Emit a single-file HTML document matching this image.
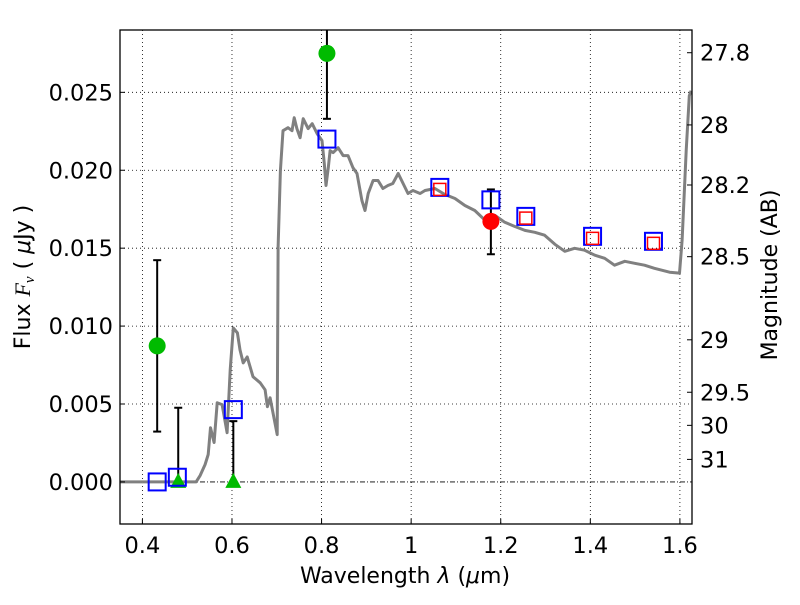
<!DOCTYPE html>
<html><head><meta charset="utf-8"><style>
body{margin:0;background:#fff;}
svg text{font-family:"DejaVu Sans","Liberation Sans",sans-serif;}
</style></head><body>
<svg id="chart" width="800" height="600" xmlns="http://www.w3.org/2000/svg">
<defs><clipPath id="plotclip"><rect x="120" y="30" width="572" height="494"/></clipPath></defs>
<rect width="800" height="600" fill="#fff"/>
<g id="grid"></g>
<g id="marks" clip-path="url(#plotclip)"></g>
<g id="axes"></g>
<text x="405" y="583" font-size="22" text-anchor="middle">Wavelength  <tspan font-style="italic">λ</tspan> (<tspan font-style="italic">μ</tspan>m)</text>
<text transform="translate(30,277) rotate(-90)" font-size="22" text-anchor="middle">Flux  <tspan font-style="italic" font-family="Liberation Serif">F<tspan font-size="15" dy="4">ν</tspan></tspan><tspan dy="-4">  ( </tspan><tspan font-style="italic">μ</tspan>Jy )</text>
<text transform="translate(777,275) rotate(-90)" font-size="22" text-anchor="middle">Magnitude (AB)</text>
</svg>
<script>
const xTicks=[0.4,0.6,0.8,1.0,1.2,1.4,1.6];
const xTickLabels=["0.4","0.6","0.8","1","1.2","1.4","1.6"];
const yTicks=[0,0.005,0.010,0.015,0.020,0.025];
const yTickLabels=["0.000","0.005","0.010","0.015","0.020","0.025"];
const magTicks=[27.8,28,28.2,28.5,29,29.5,30,31];
const magTickLabels=["27.8","28","28.2","28.5","29","29.5","30","31"];
const specLam=[0.35,0.520,0.529,0.540,0.547,0.552,0.560,0.567,0.578,0.589,0.596,0.603,0.612,0.618,0.625,0.634,0.647,0.663,0.674,0.679,0.685,0.701,0.703,0.708,0.714,0.725,0.734,0.739,0.745,0.752,0.759,0.770,0.779,0.790,0.801,0.806,0.810,0.815,0.819,0.826,0.837,0.848,0.859,0.870,0.879,0.890,0.897,0.904,0.915,0.926,0.937,0.948,0.959,0.971,0.982,0.993,1.004,1.020,1.031,1.053,1.075,1.098,1.120,1.142,1.165,1.187,1.209,1.231,1.254,1.276,1.298,1.321,1.343,1.365,1.387,1.410,1.432,1.454,1.477,1.499,1.521,1.543,1.577,1.599,1.605,1.614,1.621,1.625];
const specFlux=[0,0,0.00042,0.00112,0.00176,0.00348,0.00253,0.00508,0.00496,0.00316,0.00719,0.00988,0.00956,0.00847,0.00764,0.00802,0.00675,0.00636,0.00591,0.00483,0.0054,0.00304,0.01506,0.01998,0.02254,0.02273,0.02254,0.02337,0.02267,0.02209,0.02331,0.02267,0.02299,0.02235,0.0219,0.02043,0.01902,0.02017,0.02126,0.02113,0.02145,0.02094,0.02094,0.02017,0.01979,0.01806,0.01742,0.01851,0.01934,0.01934,0.01883,0.01902,0.01915,0.01979,0.01915,0.01851,0.0187,0.01851,0.0187,0.01883,0.01845,0.01819,0.01774,0.01742,0.01679,0.0171,0.01666,0.0164,0.01614,0.01602,0.01583,0.01525,0.0148,0.01499,0.01487,0.01455,0.01435,0.01391,0.01416,0.01403,0.01391,0.01371,0.01346,0.0134,0.0155,0.02126,0.02478,0.0251];
const detLam=[0.433,0.812];
const detFlux=[0.00873,0.0275];
const detErrLo=[0.00323,0.0233];
const detErrHi=[0.01423,0.0320];
const ulLam=[0.480,0.603];
const ulFlux=[0,0];
const ulTop=[0.00476,0.0039];
const redLam=[1.178];
const redFlux=[0.01672];
const redErrLo=[0.01461];
const redErrHi=[0.01877];
const modLam=[0.433,0.478,0.603,0.812,1.064,1.178,1.256,1.405,1.541];
const modFlux=[0,0.0003,0.00464,0.0220,0.0189,0.0181,0.01704,0.01576,0.01544];
const modRedLam=[1.064,1.256,1.405,1.541];
const modRedFlux=[0.01877,0.01693,0.01563,0.01531];

const L=120,R=692,T=30,B=524;
const xMin=0.35,xMax=1.627,yMin=-0.0027,yMax=0.029;
const X=v=>L+(v-xMin)/(xMax-xMin)*(R-L);
const Y=v=>B-(v-yMin)/(yMax-yMin)*(B-T);
const NS="http://www.w3.org/2000/svg";
function mk(tag,attrs,parent){const e=document.createElementNS(NS,tag);for(const k in attrs)e.setAttribute(k,attrs[k]);parent.appendChild(e);return e;}
const grid=document.getElementById('grid'),marks=document.getElementById('marks'),axes=document.getElementById('axes');

xTicks.forEach((v,i)=>{
  let g=mk('line',{x1:X(v),x2:X(v),y1:T,y2:B,stroke:'#000','stroke-width':0.8,'stroke-dasharray':'1,3'},grid);
  
  
  let t=mk('line',{x1:X(v),x2:X(v),y1:B,y2:B-5,stroke:'#000'},axes);
  
  
  let l=mk('text',{x:X(v),y:B+29,'font-size':22.5,'text-anchor':'middle'},axes);
  l.textContent=xTickLabels[i];
  
  
});
yTicks.forEach((v,i)=>{
  if(v!==0){let g=mk('line',{x1:L,x2:R,y1:Y(v),y2:Y(v),stroke:'#000','stroke-width':0.8,'stroke-dasharray':'1,3'},grid);
  
  }
  let t=mk('line',{x1:L,x2:L+5,y1:Y(v),y2:Y(v),stroke:'#000'},axes);
  
  
  let l=mk('text',{x:L-7,y:Y(v)+8,'font-size':22.5,'text-anchor':'end'},axes);
  l.textContent=yTickLabels[i];
  
  
});
let z=mk('line',{x1:L,x2:R,y1:Y(0),y2:Y(0),stroke:'#000','stroke-width':0.8,'stroke-dasharray':'5,2,1,2'},grid);


magTicks.forEach((m,i)=>{
  const f=Math.pow(10,(23.9-m)/2.5);
  let t=mk('line',{x1:R,x2:R-5,y1:Y(f),y2:Y(f),stroke:'#000'},axes);
  
  
  let l=mk('text',{x:R+8,y:Y(f)+8,'font-size':22.5},axes);
  l.textContent=magTickLabels[i];
  
  
});
let spine=mk('rect',{x:L,y:T,width:R-L,height:B-T,fill:'none',stroke:'#000','stroke-width':1.3},axes);



let d=specLam.map((v,i)=>(i?'L':'M')+X(v).toFixed(1)+','+Y(specFlux[i]).toFixed(1)).join('');
let sp=mk('path',{d:d,fill:'none',stroke:'#808080','stroke-width':3,'stroke-linejoin':'round'},marks);



function errbar(x,lo,hi,name){
  const g=mk('g',{stroke:'#000','stroke-width':2},marks);
  
  
  mk('line',{x1:X(x),x2:X(x),y1:Y(lo),y2:Y(hi)},g);
  mk('line',{x1:X(x)-4,x2:X(x)+4,y1:Y(lo),y2:Y(lo)},g);
  mk('line',{x1:X(x)-4,x2:X(x)+4,y1:Y(hi),y2:Y(hi)},g);
}
detLam.forEach((v,i)=>errbar(v,detErrLo[i],detErrHi[i],'detection-errorbar'));
ulLam.forEach((v,i)=>errbar(v,ulFlux[i],ulTop[i],'upper-limit-errorbar'));
redLam.forEach((v,i)=>errbar(v,redErrLo[i],redErrHi[i],'red-errorbar'));
detLam.forEach((v,i)=>{
  let c=mk('circle',{cx:X(v),cy:Y(detFlux[i]),r:8.5,fill:'#00bb00'},marks);
  
  
});
ulLam.forEach((v,i)=>{
  const x=X(v),y=Y(ulFlux[i]);
  let p=mk('polygon',{points:`${x},${y-9} ${x-8},${y+6} ${x+8},${y+6}`,fill:'#00bb00'},marks);
  
  
});
redLam.forEach((v,i)=>{
  let c=mk('circle',{cx:X(v),cy:Y(redFlux[i]),r:8.5,fill:'#ff0000'},marks);
  
  
});
modLam.forEach((v,i)=>{
  let r=mk('rect',{x:X(v)-8.5,y:Y(modFlux[i])-8.5,width:17,height:17,fill:'none',stroke:'#0000ff','stroke-width':2},marks);
  
  
});
modRedLam.forEach((v,i)=>{
  let r=mk('rect',{x:X(v)-6,y:Y(modRedFlux[i])-6,width:12,height:12,fill:'none',stroke:'#ff0000','stroke-width':1.5},marks);
  
  
});
</script>
</body></html>
